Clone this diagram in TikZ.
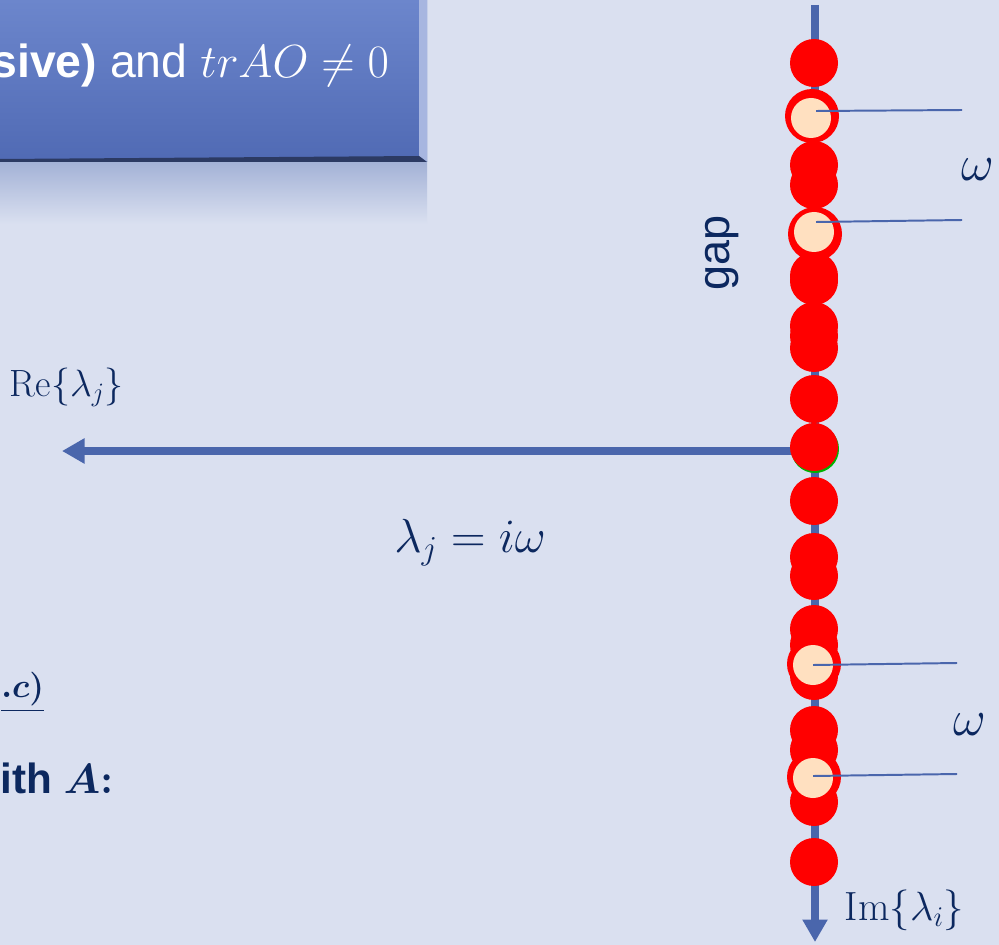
\RequirePackage{fix-cm}
\documentclass[tikz,border=0pt]{standalone}
\usepackage{amsmath}
\usepackage{fontspec}
\setsansfont{Liberation Sans}
\usetikzlibrary{arrows.meta}

\definecolor{bgcol}{RGB}{218,224,240}
\definecolor{axiscol}{RGB}{74,102,172}
\definecolor{navy}{RGB}{12,40,95}
\definecolor{peach}{RGB}{255,224,192}
\definecolor{boxtop}{RGB}{108,134,204}
\definecolor{boxbot}{RGB}{80,106,180}

\begin{document}
\begin{tikzpicture}[x=0.025cm, y=-0.025cm,
  axis/.style={axiscol, line width=5pt, -{Triangle[length=16pt, width=17pt]}},
  leader/.style={axiscol, line width=1.4pt},
  lbl/.style={navy, font=\fontsize{28}{32}\selectfont},
  reddot/.style={fill=red}]
  \useasboundingbox (0,0) rectangle (999,945);
  \clip (0,0) rectangle (999,945);
  \fill[bgcol] (0,0) rectangle (999,945);

  % title box (cut at the left edge) and its reflection
  \shade[top color=axiscol!38!bgcol, bottom color=bgcol] (0,162) rectangle (427,224);
  \shade[top color=boxtop, bottom color=boxbot] (0,0) rectangle (427,162);
  \fill[boxtop!60!white] (419,0) -- (427,0) -- (427,162) -- (419,156) -- cycle;
  \fill[boxbot!55!black] (0,159) -- (419,156) -- (427,162) -- (0,162) -- cycle;
  \node[white, anchor=base east, font=\fontsize{33}{36}\selectfont] (title) at (394,78)
    {\sffamily\textbf{sive)} and $trAO \neq 0$};

  % the two axes
  \coordinate (O) at (814,451);
  \coordinate (Itop) at (815,5);
  \coordinate (Ibot) at (815,942);
  \coordinate (Rend) at (62,451);
  \draw[axis] (Itop) -- (Ibot);
  \draw[axis] (O) -- (Rend);

  % eigenvalues on the imaginary axis
  \fill[green!70!black] (815,449) circle (24);
  \foreach \y in {63,165,185,276,281,326,336,348,399,447,501,557,576,629,645,676,730,750,802,862}
    \fill[reddot] (814,\y) circle (24);

  % the marked pairs (ring dots)
  \coordinate (W1) at (812,116);
  \coordinate (W2) at (815,234);
  \coordinate (W3) at (814,664);
  \coordinate (W4) at (814,777);
  \foreach \p in {W1,W2,W3,W4}
    \fill[reddot] (\p) circle (27);
  \fill[peach] (811,118) circle (20);
  \fill[peach] (814,232) circle (20);
  \fill[peach] (813,665) circle (20);
  \fill[peach] (813,778) circle (20);

  \coordinate (E1) at (962,110);
  \coordinate (E2) at (962,220);
  \coordinate (E3) at (957,663);
  \coordinate (E4) at (957,774);
  \draw[leader] (816,111) -- (E1);
  \draw[leader] (816,222) -- (E2);
  \draw[leader] (813,665) -- (E3);
  \draw[leader] (813,776) -- (E4);

  % labels
  \node[lbl, font=\fontsize{36}{40}\selectfont] (om1) at (978,170) {$\omega$};
  \node[lbl, font=\fontsize{36}{40}\selectfont] (om2) at (970,725) {$\omega$};
  \node[lbl, font=\fontsize{32}{36}\selectfont, rotate=90] (gap) at (722,253) {\sffamily gap};
  \node[lbl, anchor=base west, font=\fontsize{27}{30}\selectfont] (re) at (5,396) {$\mathrm{Re}\{\lambda_j\}$};
  \node[lbl, anchor=base west, font=\fontsize{29}{32}\selectfont] (im) at (840,920) {$\mathrm{Im}\{\lambda_i\}$};
  \node[lbl, font=\fontsize{34}{38}\selectfont] (eig) at (470,543) {$\lambda_j = i\omega$};
  \node[lbl, anchor=base west, inner sep=0pt, font=\fontsize{24}{28}\selectfont] (cc) at (1,697)
    {$\underline{\boldsymbol{.c)}}$};
  \node[lbl, anchor=base west, inner sep=0pt, font=\fontsize{30}{33}\selectfont] (with) at (0,793)
    {\sffamily\textbf{ith} $\boldsymbol{A{:}}$};
\end{tikzpicture}
\end{document}
